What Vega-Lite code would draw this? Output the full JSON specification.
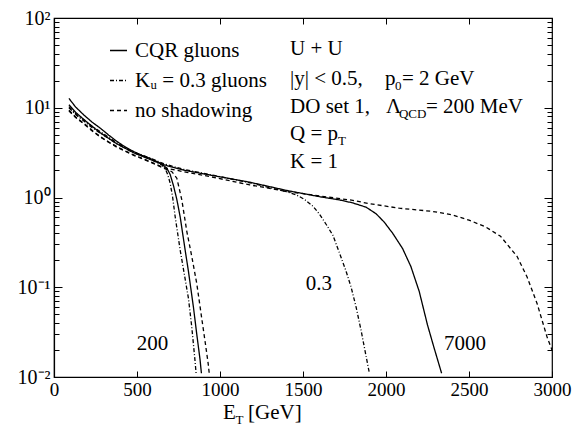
{
 "$schema": "https://vega.github.io/schema/vega-lite/v6.json",
 "width": 498, "height": 359,
 "autosize": "none",
 "padding": {"left": 54, "top": 18, "right": 33, "bottom": 64},
 "background": "white",
 "datasets": {
  "curves": [
   {"curve":"a","type":"CQR gluons","E":90,"val":12.7},{"curve":"a","type":"CQR gluons","E":130,"val":10.2},{"curve":"a","type":"CQR gluons","E":180,"val":8.3},{"curve":"a","type":"CQR gluons","E":230,"val":6.9},{"curve":"a","type":"CQR gluons","E":280,"val":5.9},{"curve":"a","type":"CQR gluons","E":330,"val":4.95},{"curve":"a","type":"CQR gluons","E":380,"val":4.2},{"curve":"a","type":"CQR gluons","E":430,"val":3.65},{"curve":"a","type":"CQR gluons","E":480,"val":3.25},{"curve":"a","type":"CQR gluons","E":530,"val":2.95},{"curve":"a","type":"CQR gluons","E":580,"val":2.72},{"curve":"a","type":"CQR gluons","E":660,"val":2.32},{"curve":"a","type":"CQR gluons","E":780,"val":2.02},{"curve":"a","type":"CQR gluons","E":940,"val":1.78},{"curve":"a","type":"CQR gluons","E":1180,"val":1.48},{"curve":"a","type":"CQR gluons","E":1400,"val":1.2},{"curve":"a","type":"CQR gluons","E":1600,"val":1.02},{"curve":"a","type":"CQR gluons","E":1720,"val":0.94},{"curve":"a","type":"CQR gluons","E":1800,"val":0.87},{"curve":"a","type":"CQR gluons","E":1880,"val":0.78},{"curve":"a","type":"CQR gluons","E":1940,"val":0.66},{"curve":"a","type":"CQR gluons","E":1990,"val":0.53},{"curve":"a","type":"CQR gluons","E":2040,"val":0.4},{"curve":"a","type":"CQR gluons","E":2100,"val":0.27},{"curve":"a","type":"CQR gluons","E":2150,"val":0.17},{"curve":"a","type":"CQR gluons","E":2200,"val":0.09},{"curve":"a","type":"CQR gluons","E":2250,"val":0.038},{"curve":"a","type":"CQR gluons","E":2290,"val":0.021},{"curve":"a","type":"CQR gluons","E":2335,"val":0.011},
   {"curve":"b","type":"CQR gluons","E":90,"val":10.8},{"curve":"b","type":"CQR gluons","E":130,"val":8.9},{"curve":"b","type":"CQR gluons","E":180,"val":7.4},{"curve":"b","type":"CQR gluons","E":230,"val":6.2},{"curve":"b","type":"CQR gluons","E":280,"val":5.25},{"curve":"b","type":"CQR gluons","E":380,"val":3.95},{"curve":"b","type":"CQR gluons","E":480,"val":3.15},{"curve":"b","type":"CQR gluons","E":580,"val":2.65},{"curve":"b","type":"CQR gluons","E":650,"val":2.35},{"curve":"b","type":"CQR gluons","E":680,"val":2.12},{"curve":"b","type":"CQR gluons","E":700,"val":1.8},{"curve":"b","type":"CQR gluons","E":720,"val":1.35},{"curve":"b","type":"CQR gluons","E":740,"val":0.95},{"curve":"b","type":"CQR gluons","E":760,"val":0.61},{"curve":"b","type":"CQR gluons","E":790,"val":0.26},{"curve":"b","type":"CQR gluons","E":810,"val":0.15},{"curve":"b","type":"CQR gluons","E":840,"val":0.06},{"curve":"b","type":"CQR gluons","E":860,"val":0.03},{"curve":"b","type":"CQR gluons","E":880,"val":0.0155},{"curve":"b","type":"CQR gluons","E":888,"val":0.011},
   {"curve":"c","type":"Kᵤ = 0.3 gluons","E":90,"val":10.3},{"curve":"c","type":"Kᵤ = 0.3 gluons","E":130,"val":8.6},{"curve":"c","type":"Kᵤ = 0.3 gluons","E":180,"val":7.3},{"curve":"c","type":"Kᵤ = 0.3 gluons","E":230,"val":6.2},{"curve":"c","type":"Kᵤ = 0.3 gluons","E":280,"val":5.4},{"curve":"c","type":"Kᵤ = 0.3 gluons","E":380,"val":4.05},{"curve":"c","type":"Kᵤ = 0.3 gluons","E":480,"val":3.2},{"curve":"c","type":"Kᵤ = 0.3 gluons","E":580,"val":2.75},{"curve":"c","type":"Kᵤ = 0.3 gluons","E":660,"val":2.38},{"curve":"c","type":"Kᵤ = 0.3 gluons","E":780,"val":2.06},{"curve":"c","type":"Kᵤ = 0.3 gluons","E":940,"val":1.8},{"curve":"c","type":"Kᵤ = 0.3 gluons","E":1180,"val":1.46},{"curve":"c","type":"Kᵤ = 0.3 gluons","E":1400,"val":1.16},{"curve":"c","type":"Kᵤ = 0.3 gluons","E":1460,"val":1.07},{"curve":"c","type":"Kᵤ = 0.3 gluons","E":1510,"val":0.95},{"curve":"c","type":"Kᵤ = 0.3 gluons","E":1560,"val":0.8},{"curve":"c","type":"Kᵤ = 0.3 gluons","E":1600,"val":0.65},{"curve":"c","type":"Kᵤ = 0.3 gluons","E":1640,"val":0.5},{"curve":"c","type":"Kᵤ = 0.3 gluons","E":1680,"val":0.38},{"curve":"c","type":"Kᵤ = 0.3 gluons","E":1720,"val":0.24},{"curve":"c","type":"Kᵤ = 0.3 gluons","E":1760,"val":0.15},{"curve":"c","type":"Kᵤ = 0.3 gluons","E":1790,"val":0.1},{"curve":"c","type":"Kᵤ = 0.3 gluons","E":1820,"val":0.06},{"curve":"c","type":"Kᵤ = 0.3 gluons","E":1850,"val":0.033},{"curve":"c","type":"Kᵤ = 0.3 gluons","E":1875,"val":0.019},{"curve":"c","type":"Kᵤ = 0.3 gluons","E":1900,"val":0.011},
   {"curve":"d","type":"Kᵤ = 0.3 gluons","E":90,"val":10.0},{"curve":"d","type":"Kᵤ = 0.3 gluons","E":130,"val":8.4},{"curve":"d","type":"Kᵤ = 0.3 gluons","E":180,"val":7.1},{"curve":"d","type":"Kᵤ = 0.3 gluons","E":230,"val":6.0},{"curve":"d","type":"Kᵤ = 0.3 gluons","E":280,"val":5.2},{"curve":"d","type":"Kᵤ = 0.3 gluons","E":380,"val":3.95},{"curve":"d","type":"Kᵤ = 0.3 gluons","E":480,"val":3.15},{"curve":"d","type":"Kᵤ = 0.3 gluons","E":580,"val":2.68},{"curve":"d","type":"Kᵤ = 0.3 gluons","E":650,"val":2.3},{"curve":"d","type":"Kᵤ = 0.3 gluons","E":670,"val":2.1},{"curve":"d","type":"Kᵤ = 0.3 gluons","E":685,"val":1.8},{"curve":"d","type":"Kᵤ = 0.3 gluons","E":700,"val":1.44},{"curve":"d","type":"Kᵤ = 0.3 gluons","E":715,"val":1.0},{"curve":"d","type":"Kᵤ = 0.3 gluons","E":730,"val":0.61},{"curve":"d","type":"Kᵤ = 0.3 gluons","E":760,"val":0.26},{"curve":"d","type":"Kᵤ = 0.3 gluons","E":785,"val":0.14},{"curve":"d","type":"Kᵤ = 0.3 gluons","E":810,"val":0.075},{"curve":"d","type":"Kᵤ = 0.3 gluons","E":830,"val":0.036},{"curve":"d","type":"Kᵤ = 0.3 gluons","E":849,"val":0.0155},{"curve":"d","type":"Kᵤ = 0.3 gluons","E":856,"val":0.011},
   {"curve":"e","type":"no shadowing","E":90,"val":9.4},{"curve":"e","type":"no shadowing","E":130,"val":7.9},{"curve":"e","type":"no shadowing","E":180,"val":6.7},{"curve":"e","type":"no shadowing","E":230,"val":5.6},{"curve":"e","type":"no shadowing","E":280,"val":4.75},{"curve":"e","type":"no shadowing","E":330,"val":4.15},{"curve":"e","type":"no shadowing","E":380,"val":3.68},{"curve":"e","type":"no shadowing","E":430,"val":3.3},{"curve":"e","type":"no shadowing","E":480,"val":2.98},{"curve":"e","type":"no shadowing","E":580,"val":2.51},{"curve":"e","type":"no shadowing","E":660,"val":2.15},{"curve":"e","type":"no shadowing","E":780,"val":1.94},{"curve":"e","type":"no shadowing","E":940,"val":1.71},{"curve":"e","type":"no shadowing","E":1180,"val":1.38},{"curve":"e","type":"no shadowing","E":1400,"val":1.17},{"curve":"e","type":"no shadowing","E":1600,"val":1.04},{"curve":"e","type":"no shadowing","E":1800,"val":0.93},{"curve":"e","type":"no shadowing","E":1890,"val":0.86},{"curve":"e","type":"no shadowing","E":2080,"val":0.76},{"curve":"e","type":"no shadowing","E":2280,"val":0.7},{"curve":"e","type":"no shadowing","E":2400,"val":0.64},{"curve":"e","type":"no shadowing","E":2500,"val":0.56},{"curve":"e","type":"no shadowing","E":2600,"val":0.47},{"curve":"e","type":"no shadowing","E":2690,"val":0.37},{"curve":"e","type":"no shadowing","E":2790,"val":0.22},{"curve":"e","type":"no shadowing","E":2850,"val":0.13},{"curve":"e","type":"no shadowing","E":2910,"val":0.066},{"curve":"e","type":"no shadowing","E":2970,"val":0.028},{"curve":"e","type":"no shadowing","E":3000,"val":0.02},
   {"curve":"f","type":"no shadowing","E":90,"val":9.2},{"curve":"f","type":"no shadowing","E":130,"val":7.8},{"curve":"f","type":"no shadowing","E":180,"val":6.6},{"curve":"f","type":"no shadowing","E":230,"val":5.5},{"curve":"f","type":"no shadowing","E":280,"val":4.7},{"curve":"f","type":"no shadowing","E":380,"val":3.62},{"curve":"f","type":"no shadowing","E":480,"val":2.95},{"curve":"f","type":"no shadowing","E":580,"val":2.48},{"curve":"f","type":"no shadowing","E":660,"val":2.12},{"curve":"f","type":"no shadowing","E":710,"val":1.94},{"curve":"f","type":"no shadowing","E":740,"val":1.64},{"curve":"f","type":"no shadowing","E":770,"val":0.94},{"curve":"f","type":"no shadowing","E":800,"val":0.42},{"curve":"f","type":"no shadowing","E":830,"val":0.22},{"curve":"f","type":"no shadowing","E":860,"val":0.11},{"curve":"f","type":"no shadowing","E":890,"val":0.045},{"curve":"f","type":"no shadowing","E":910,"val":0.025},{"curve":"f","type":"no shadowing","E":929,"val":0.014},{"curve":"f","type":"no shadowing","E":935,"val":0.011}
  ],
  "notes": [
   {"E":1422,"val":38.7,"text":"U + U"},
   {"E":1422,"val":17.9,"text":"|y| < 0.5,"},
   {"E":1994,"val":17.9,"text":"p"},
   {"E":2096,"val":17.9,"text":"= 2 GeV"},
   {"E":1422,"val":8.74,"text":"DO set 1,"},
   {"E":2000,"val":8.74,"text":"Λ"},
   {"E":2241,"val":8.74,"text":"= 200 MeV"},
   {"E":1422,"val":4.37,"text":"Q = p"},
   {"E":1422,"val":2.13,"text":"K = 1"},
   {"E":1018,"val":0.0034,"text":"E"},
   {"E":1169,"val":0.0034,"text":"[GeV]"}
  ],
  "subs": [
   {"E":2054,"val":17.9,"text":"0"},
   {"E":2078,"val":8.74,"text":"QCD"},
   {"E":1711,"val":4.37,"text":"T"},
   {"E":1093,"val":0.0034,"text":"T"}
  ],
  "labels": [
   {"E":593,"val":0.02,"text":"200"},
   {"E":1596,"val":0.093,"text":"0.3"},
   {"E":2476,"val":0.02,"text":"7000"}
  ]
 },
 "config": {
  "view": {"stroke": "black", "strokeWidth": 1.2},
  "font": "Liberation Serif",
  "axis": {"grid": false, "domainColor": "black", "tickColor": "black", "labelColor": "black", "labelFont": "Liberation Serif", "domainWidth": 1.2, "tickWidth": 1}
 },
 "resolve": {"axis": {"x": "independent", "y": "independent"}},
 "layer": [
  {
   "data": {"name": "curves"},
   "mark": {"type": "line", "strokeWidth": 1.3, "color": "black", "clip": true},
   "encoding": {
    "x": {"field": "E", "type": "quantitative", "scale": {"domain": [0, 3000], "nice": false, "zero": false},
     "axis": {"orient": "bottom", "title": null, "values": [0, 500, 1000, 1500, 2000, 2500, 3000], "format": "d", "labelFontSize": 19, "tickSize": -6, "labelPadding": 9, "labelAngle": 0, "labelFlush": false}},
    "y": {"field": "val", "type": "quantitative", "scale": {"type": "log", "domain": [0.01, 100], "nice": false},
     "axis": {"orient": "left", "title": null,
      "values": [0.01,0.02,0.03,0.04,0.05,0.06,0.07,0.08,0.09,0.1,0.2,0.3,0.4,0.5,0.6,0.7,0.8,0.9,1,2,3,4,5,6,7,8,9,10,20,30,40,50,60,70,80,90,100],
      "labelExpr": "datum.value == 100 ? '10²' : datum.value == 10 ? '10¹' : datum.value == 1 ? '10⁰' : datum.value == 0.1 ? '10⁻¹' : datum.value == 0.01 ? '10⁻²' : ''",
      "labelFontSize": 20, "labelPadding": 12, "labelFlush": false,
      "tickSize": {"condition": {"test": "datum.value == 0.01 || datum.value == 0.1 || datum.value == 1 || datum.value == 10 || datum.value == 100", "value": -8}, "value": -5}}},
    "detail": {"field": "curve"},
    "strokeDash": {"field": "type", "type": "nominal",
     "scale": {"domain": ["CQR gluons", "Kᵤ = 0.3 gluons", "no shadowing"], "range": [[1, 0], [4, 2, 1, 2], [4, 3]]},
     "legend": {"title": null, "orient": "none", "legendX": 54, "legendY": 22, "labelFontSize": 21, "labelFont": "Liberation Serif", "labelColor": "black", "symbolType": "stroke", "symbolSize": 289, "symbolStrokeWidth": 1.3, "symbolStrokeColor": "black", "rowPadding": 8, "padding": 0, "labelOffset": 6, "labelLimit": 300}}
   }
  },
  {
   "data": {"name": "curves"},
   "mark": {"type": "point", "opacity": 0},
   "encoding": {
    "x": {"field": "E", "type": "quantitative", "axis": {"orient": "top", "labels": false, "title": null, "domain": false, "values": [0, 500, 1000, 1500, 2000, 2500, 3000], "tickSize": -6}},
    "y": {"field": "val", "type": "quantitative", "axis": {"orient": "right", "labels": false, "title": null, "domain": false,
      "values": [0.01,0.02,0.03,0.04,0.05,0.06,0.07,0.08,0.09,0.1,0.2,0.3,0.4,0.5,0.6,0.7,0.8,0.9,1,2,3,4,5,6,7,8,9,10,20,30,40,50,60,70,80,90,100],
      "tickSize": {"condition": {"test": "datum.value == 0.01 || datum.value == 0.1 || datum.value == 1 || datum.value == 10 || datum.value == 100", "value": -8}, "value": -5}}}
   }
  },
  {
   "data": {"name": "notes"},
   "mark": {"type": "text", "align": "left", "baseline": "alphabetic", "fontSize": 21, "font": "Liberation Serif", "color": "black"},
   "encoding": {
    "x": {"field": "E", "type": "quantitative", "axis": null},
    "y": {"field": "val", "type": "quantitative", "axis": null},
    "text": {"field": "text"}
   }
  },
  {
   "data": {"name": "subs"},
   "mark": {"type": "text", "align": "left", "baseline": "alphabetic", "fontSize": 13, "dy": 5, "font": "Liberation Serif", "color": "black"},
   "encoding": {
    "x": {"field": "E", "type": "quantitative", "axis": null},
    "y": {"field": "val", "type": "quantitative", "axis": null},
    "text": {"field": "text"}
   }
  },
  {
   "data": {"name": "labels"},
   "mark": {"type": "text", "align": "center", "baseline": "alphabetic", "fontSize": 21, "font": "Liberation Serif", "color": "black"},
   "encoding": {
    "x": {"field": "E", "type": "quantitative", "axis": null},
    "y": {"field": "val", "type": "quantitative", "axis": null},
    "text": {"field": "text"}
   }
  }
 ]
}
